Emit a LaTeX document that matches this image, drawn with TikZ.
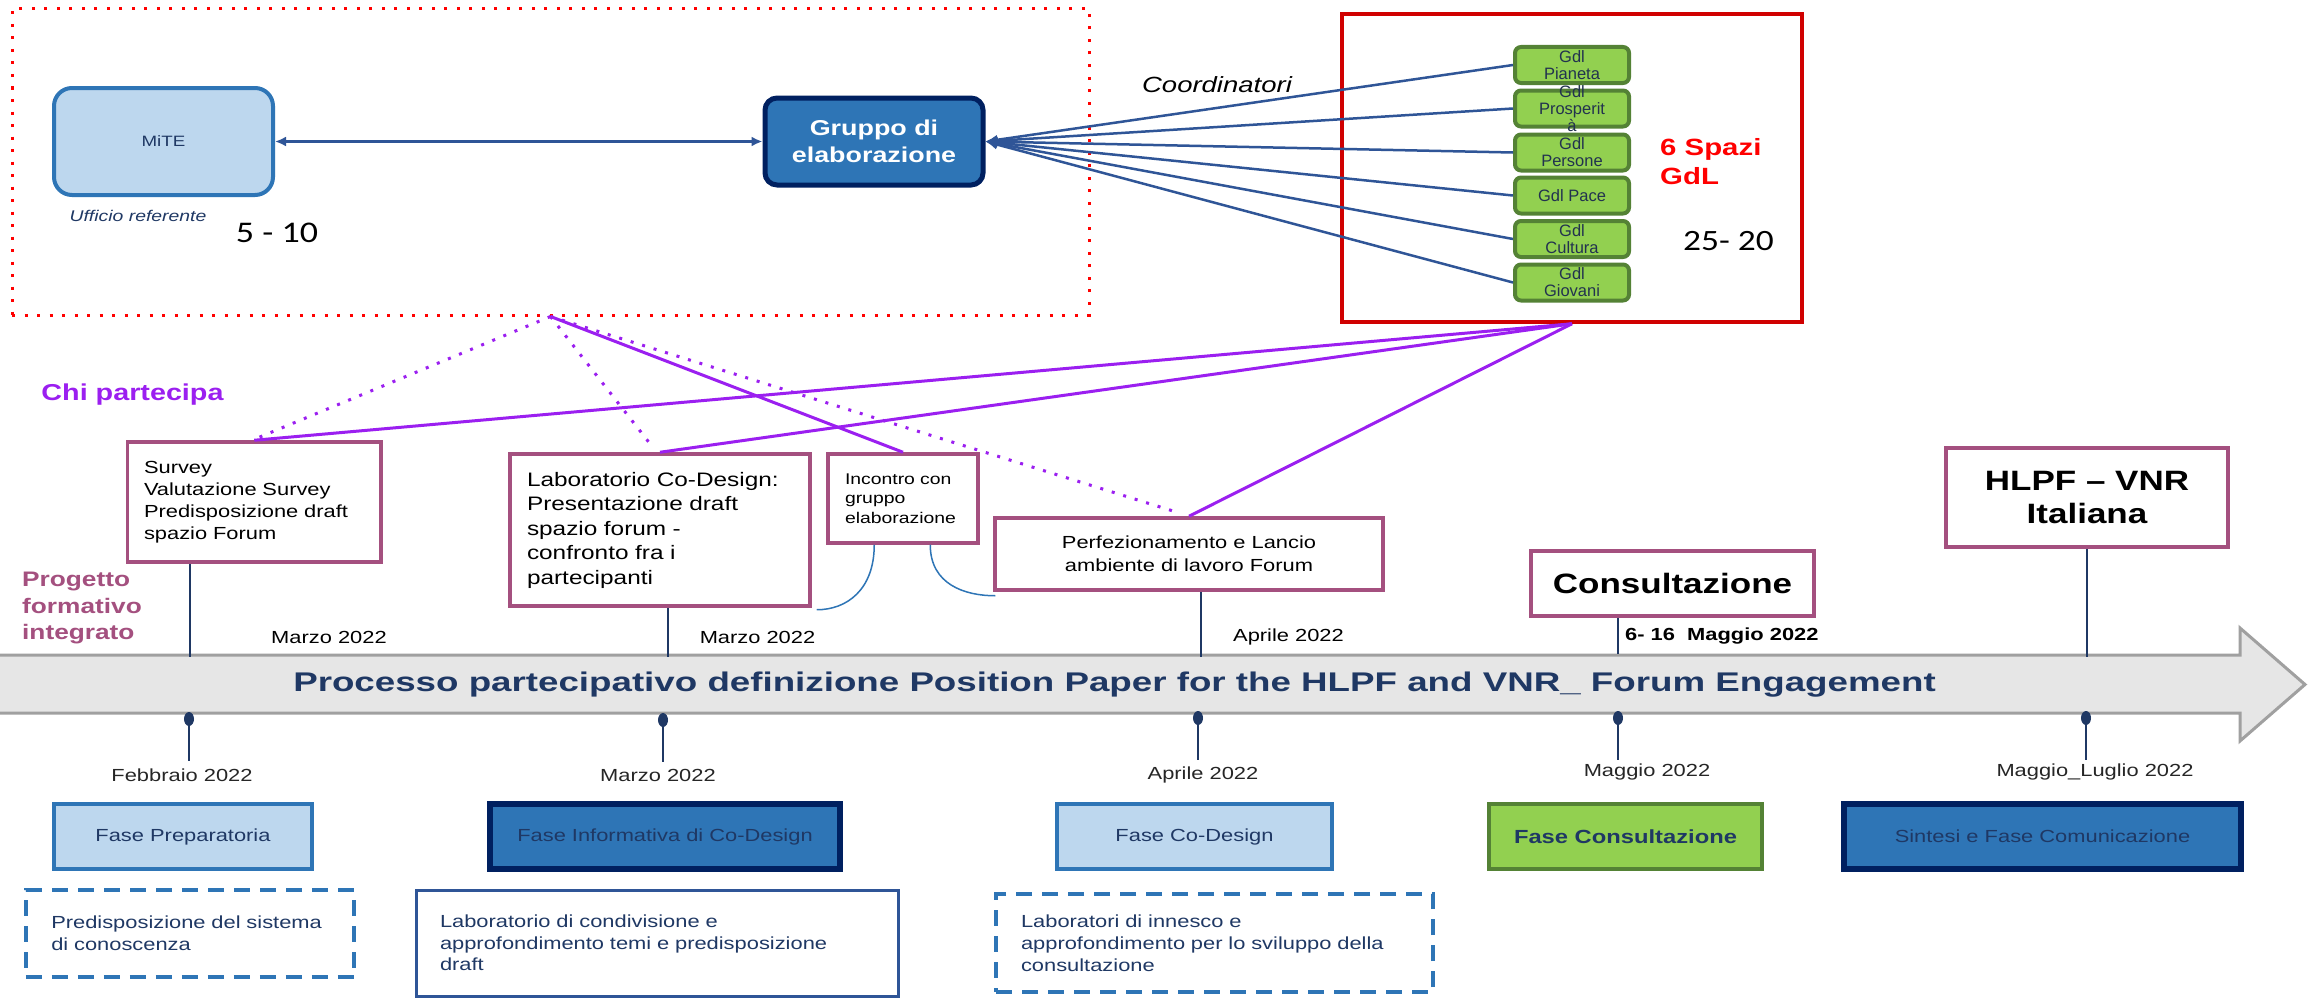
\documentclass[tikz,border=0pt]{standalone}
\usepackage{fontspec}
\setmainfont{Liberation Sans}[FakeStretch=1.25]
\newfontfamily\fban{Liberation Sans}[FakeStretch=1.36]
\newfontfamily\fplain{Liberation Sans}
\newfontfamily\fcal{Carlito}[FakeStretch=1.2]
\usetikzlibrary{arrows.meta,shapes.geometric,calc}
\newcommand\fsz[2]{\fontsize{#1}{#2}\selectfont}
\definecolor{lblue}{HTML}{BDD7EE}
\definecolor{mblue}{HTML}{2E75B6}
\definecolor{navy}{HTML}{002060}
\definecolor{txtnavy}{HTML}{1F3864}
\definecolor{conblue}{HTML}{2F5597}
\definecolor{lgreen}{HTML}{92D050}
\definecolor{dgreen}{HTML}{548235}
\definecolor{mauve}{HTML}{A4507F}
\definecolor{purp}{HTML}{9B1FF0}
\definecolor{redbox}{HTML}{D00000}
\definecolor{bangray}{HTML}{E6E6E6}
\definecolor{banedge}{HTML}{A0A0A0}
\definecolor{gdltext}{HTML}{22324F}
\definecolor{datetxt}{HTML}{262626}
\begin{document}
\begin{tikzpicture}[x=1pt,y=-1pt,
  every node/.style={inner sep=0pt},
  mitebox/.style={draw=mblue, line width=4pt, fill=lblue, rounded corners=18pt, minimum width=219pt, minimum height=107pt, font=\fsz{15}{18}, text=txtnavy},
  grpbox/.style={draw=navy, line width=5pt, fill=mblue, rounded corners=12pt, minimum width=218pt, minimum height=87pt, font=\bfseries\fsz{21.5}{27}, text=white, align=center},
  gdlbox/.style={draw=dgreen, line width=4pt, fill=lgreen, rounded corners=6pt, minimum width=114pt, minimum height=36pt},
  gdltxt/.style={font=\fplain\fsz{16.5}{17}, text=gdltext, align=center},
  con/.style={draw=conblue, line width=2.5pt},
  evbox/.style={draw=mauve, line width=3.5pt, fill=white},
  tick/.style={draw=txtnavy, line width=2pt},
  marker/.style={ellipse, fill=txtnavy, minimum width=10pt, minimum height=14pt},
  datelab/.style={font=\fsz{17.5}{20}, text=datetxt},
  update/.style={font=\fsz{17.5}{20}, text=black},
  phlight/.style={draw=mblue, line width=4.5pt, fill=lblue, minimum height=65pt, font=\fsz{17.5}{20}, text=txtnavy},
  phdark/.style={draw=navy, line width=5.5pt, fill=mblue, minimum height=65pt, font=\fsz{17.5}{20}, text=txtnavy},
  phgreen/.style={draw=dgreen, line width=4.5pt, fill=lgreen, minimum height=65pt, font=\bfseries\fsz{19}{22}, text=txtnavy},
  dashbox/.style={draw=mblue, line width=4pt, dash pattern=on 16pt off 10pt, fill=white, font=\fsz{17.5}{22}, text=txtnavy, align=left},
  pline/.style={draw=purp, line width=3pt},
  pdot/.style={draw=purp, line width=3pt, dash pattern=on 3pt off 9pt},
  curv/.style={draw=mblue, line width=1.5pt}
]
\useasboundingbox (0,0) rectangle (2310,998);
\fill[white] (0,0) rectangle (2310,998);

% ---------- top: core group ----------
\node[draw=red, line width=3pt, dash pattern=on 3pt off 9.5pt, minimum width=1077pt, minimum height=306pt] (core) at (550.5,162) {};
\node[mitebox] (mite) at (163.5,141.5) {MiTE};
\node[grpbox] (grp) at (874,141.5) {Gruppo di\\elaborazione};
\draw[con, {Latex[length=11pt,width=10pt]}-{Latex[length=11pt,width=10pt]}] (mite) -- (grp);
\node[font=\itshape\fsz{15.5}{18}, text=txtnavy] (uff) at (138,216) {Ufficio referente};
\node[font=\fcal\fsz{30}{34}] (n510) at (277,233) {5 - 10};

% ---------- top right: GdL ----------
\node[draw=redbox, line width=3.5pt, minimum width=460pt, minimum height=308pt] (spazi) at (1572,168) {};
\node[gdlbox, label={[gdltxt]center:Gdl\\Pianeta}] (g1) at (1572,65) {};
\node[gdlbox, label={[gdltxt]center:Gdl\\Prosperit\\à}] (g2) at (1572,108.5) {};
\node[gdlbox, label={[gdltxt]center:Gdl\\Persone}] (g3) at (1572,152.5) {};
\node[gdlbox, label={[gdltxt]center:Gdl Pace}] (g4) at (1572,195.5) {};
\node[gdlbox, label={[gdltxt]center:Gdl\\Cultura}] (g5) at (1572,239) {};
\node[gdlbox, label={[gdltxt]center:Gdl\\Giovani}] (g6) at (1572,282.5) {};
\foreach \i in {1,...,6} \draw[con, {Latex[length=12pt,width=10pt]}-] (grp.east) -- (g\i.west);
\node[font=\itshape\fsz{22}{26}] (coord) at (1217,85) {Coordinatori};
\node[font=\bfseries\fsz{23.5}{29}, text=red, align=left, anchor=west] (sp) at (1660,162) {6 Spazi\\GdL};
\node[font=\fcal\fsz{29.5}{34}, anchor=west] (n2520) at (1683,241) {25- 20};

% ---------- side labels ----------
\node[font=\bfseries\fsz{23}{27}, text=purp] (chi) at (132.5,395) {Chi partecipa};
\node[font=\bfseries\fsz{21}{26.5}, text=mauve, align=left, anchor=west] (prog) at (22,608) {Progetto\\formativo\\integrato};

% ---------- banner ----------
\path[fill=bangray, draw=banedge, line width=3pt] (-5,655) -- (2240,655) -- (2240,628) -- (2305,684.5) -- (2240,741) -- (2240,713) -- (-5,713) -- cycle;
\node[font=\fban\bfseries\fsz{27}{30}, text=txtnavy] (bantxt) at (1114.5,685) {Processo partecipativo definizione Position Paper for the HLPF and VNR\_ Forum Engagement};

% ---------- events above ----------
\node[evbox, minimum width=253.5pt, minimum height=120pt, text width=220.5pt, align=left, font=\fsz{17.5}{22}] (surv) at (254.25,502) {Survey\\Valutazione Survey\\Predisposizione draft\\spazio Forum};
\node[evbox, minimum width=300pt, minimum height=152pt, text width=266pt, align=left, font=\fsz{19.5}{24.5}] (lab) at (660,530) {Laboratorio Co-Design:\\Presentazione draft\\spazio forum -\\confronto fra i\\partecipanti};
\node[evbox, minimum width=150pt, minimum height=89pt, text width=116pt, align=left, font=\fsz{15.5}{19.5}] (inc) at (903,498.5) {Incontro con\\gruppo\\elaborazione};
\node[evbox, minimum width=388pt, minimum height=72pt, align=center, font=\fsz{17.5}{23}] (perf) at (1189,554) {Perfezionamento e Lancio\\ambiente di lavoro Forum};
\node[evbox, minimum width=283pt, minimum height=65pt, font=\bfseries\fsz{28}{33}] (cons) at (1672.5,583.5) {Consultazione};
\node[evbox, minimum width=282pt, minimum height=99pt, align=center, font=\bfseries\fsz{28}{33}] (hlpf) at (2087,497.5) {HLPF – VNR\\Italiana};

\draw[tick] ($(surv.south)+(-64.25,0)$) -- ++(0,93);
\draw[tick] ($(lab.south)+(8,0)$) -- ++(0,49);
\draw[tick] ($(perf.south)+(12,0)$) -- ++(0,65);
\draw[tick] ($(cons.south)+(-54.5,0)$) -- ++(0,36);
\draw[tick] (hlpf.south) -- ++(0,108);

\node[update] (u1) at (329,637) {Marzo 2022};
\node[update] (u2) at (757.5,637) {Marzo 2022};
\node[update] (u3) at (1288.5,637) {Aprile 2022};
\node[update, font=\bfseries\fsz{17.5}{20}, anchor=west] (u4) at (1625,636) {6- 16\ \ Maggio 2022};

% ---------- purple links ----------
\draw[pline] (spazi.south) -- (surv.north);
\draw[pline] (spazi.south) -- (lab.north);
\draw[pline] (spazi.south) -- (perf.north);
\draw[pline] (core.south) -- (inc.north);
\draw[pdot] (core.south) -- ($(surv.north)+(5,-3)$);
\draw[pdot] (core.south) -- ($(lab.north)+(-8,-6)$);
\draw[pdot] (core.south) -- ($(perf.north)+(-12,-4)$);

% ---------- curved connectors ----------
\draw[curv] ($(inc.south west)+(48,0)$) .. controls +(0,45) and +(30,0) .. ($(lab.south east)+(5,2)$);
\draw[curv] ($(inc.south west)+(104,0)$) .. controls +(0,40) and +(-30,0) .. ($(perf.south west)+(2,4)$);

% ---------- markers and dates below ----------
\node[marker] (m1) at (189,719) {};
\node[marker] (m2) at (663,720) {};
\node[marker] (m3) at (1198,718) {};
\node[marker] (m4) at (1618,718) {};
\node[marker] (m5) at (2086,718) {};
\foreach \i in {1,...,5} \draw[tick] (m\i.center) -- ++(0,42);
\node[datelab] (d1) at (182,775) {Febbraio 2022};
\node[datelab] (d2) at (658,775) {Marzo 2022};
\node[datelab] (d3) at (1203,775) {Aprile 2022};
\node[datelab] (d4) at (1647,772) {Maggio 2022};
\node[datelab] (d5) at (2095,772) {Maggio\_Luglio 2022};

% ---------- phases ----------
\node[phlight, minimum width=258pt] (p1) at (183,836.5) {Fase Preparatoria};
\node[phdark, minimum width=350pt] (p2) at (665,836.5) {Fase Informativa di Co-Design};
\node[phlight, minimum width=275pt] (p3) at (1194.5,836.5) {Fase Co-Design};
\node[phgreen, minimum width=273pt] (p4) at (1625.5,836.5) {Fase Consultazione};
\node[phdark, minimum width=397pt] (p5) at (2042.5,836.5) {Sintesi e Fase Comunicazione};

% ---------- activity boxes ----------
\node[dashbox, minimum width=328.5pt, minimum height=87pt, text width=277.5pt] (a1) at (190,933.5) {Predisposizione del sistema\\di conoscenza};
\node[draw=conblue, line width=3pt, fill=white, minimum width=482pt, minimum height=106pt, text width=434pt, align=left, font=\fsz{17.5}{21.5}, text=txtnavy] (a2) at (657,943) {Laboratorio di condivisione e\\approfondimento temi e predisposizione\\draft};
\node[dashbox, minimum width=437pt, minimum height=98pt, text width=387pt] (a3) at (1214.5,943) {Laboratori di innesco e\\approfondimento per lo sviluppo della\\consultazione};
\end{tikzpicture}
\end{document}
